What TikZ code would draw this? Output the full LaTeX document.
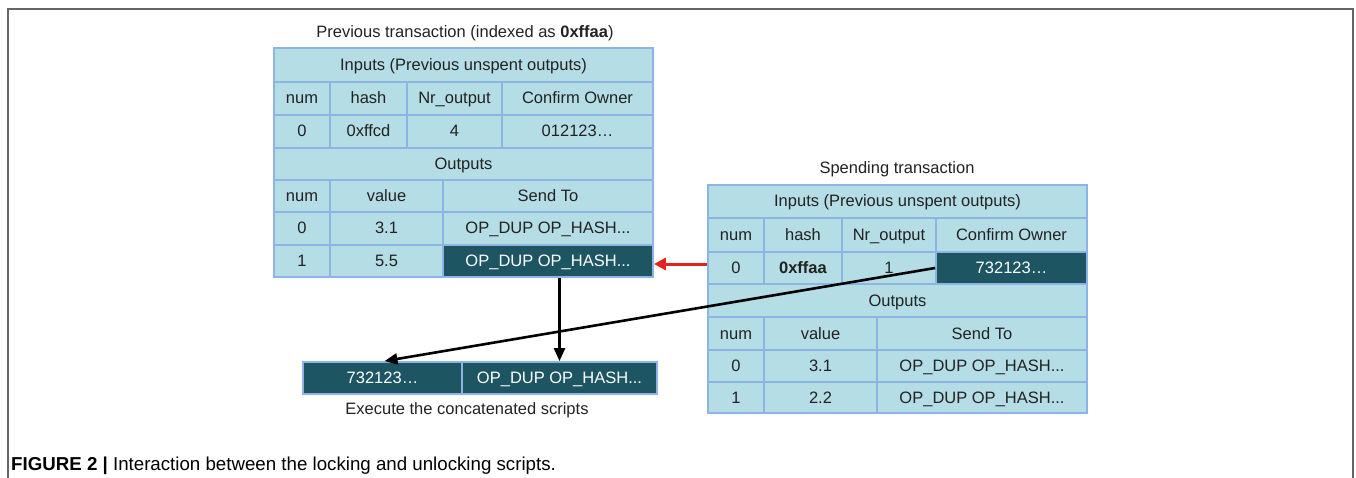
\documentclass[tikz,border=0pt]{standalone}
\usepackage{fontspec}
\setmainfont{Liberation Sans}
\usetikzlibrary{arrows.meta}
\definecolor{cellfill}{HTML}{B4DDE5}
\definecolor{cellline}{HTML}{8EB4E3}
\definecolor{darkfill}{HTML}{1D5563}
\definecolor{txt}{HTML}{222222}
\definecolor{framegray}{HTML}{666666}
\definecolor{arrred}{HTML}{E3231E}
\tikzset{
  tcellsty/.style={draw=cellline, fill=cellfill, line width=1.8pt, inner sep=0pt,
    text=txt, font=\fontsize{16.5}{19}\selectfont, text height=13pt, text depth=2pt},
  darkcell/.style={fill=darkfill, text=white},
  titlesty/.style={text=txt, font=\fontsize{16.5}{19}\selectfont, inner sep=0pt},
  blackarrow/.style={line width=2.6pt, black, -{Triangle[length=13pt,width=11pt]}},
  redarrow/.style={line width=3pt, arrred, -{Triangle[length=12pt,width=12pt]}},
}
\newcommand{\tcell}[7][]{\node[tcellsty,#1,minimum width={(#4-#2)*1pt},minimum height={(#5-#3)*1pt}] (#6) at ({(#2+#4)/2},{(#3+#5)/2}) {#7};}
\begin{document}
\begin{tikzpicture}[x=1pt,y=-1pt]
\useasboundingbox (0,0) rectangle (1356,478);
% frame
\draw[framegray, line width=1.5pt] (8,478) -- (8,9) -- (1353,9) -- (1353,478);

% ---------- previous transaction ----------
\node[titlesty] (ptitle) at (465,33) {Previous transaction (indexed as \textbf{0xffaa})};
\tcell{274}{48}{653}{82}{pin}{Inputs (Previous unspent outputs)}
\tcell{274}{82}{330}{115}{pinh1}{num}
\tcell{330}{82}{407}{115}{pinh2}{hash}
\tcell{407}{82}{502}{115}{pinh3}{Nr\_output}
\tcell{502}{82}{653}{115}{pinh4}{Confirm Owner}
\tcell{274}{115}{330}{148}{pinv1}{0}
\tcell{330}{115}{407}{148}{pinv2}{0xffcd}
\tcell{407}{115}{502}{148}{pinv3}{4}
\tcell{502}{115}{653}{148}{pinv4}{012123…}
\tcell{274}{148}{653}{180}{pout}{Outputs}
\tcell{274}{180}{330}{212}{pouth1}{num}
\tcell{330}{180}{443}{212}{pouth2}{value}
\tcell{443}{180}{653}{212}{pouth3}{Send To}
\tcell{274}{212}{330}{245}{poa1}{0}
\tcell{330}{212}{443}{245}{poa2}{3.1}
\tcell{443}{212}{653}{245}{poa3}{OP\_DUP OP\_HASH...}
\tcell{274}{245}{330}{277}{pob1}{1}
\tcell{330}{245}{443}{277}{pob2}{5.5}
\tcell[darkcell]{443}{245}{653}{277}{pdark}{OP\_DUP OP\_HASH...}

% ---------- spending transaction ----------
\node[titlesty] (stitle) at (897,169) {Spending transaction};
\tcell{708}{185}{1087}{218}{sin}{Inputs (Previous unspent outputs)}
\tcell{708}{218}{764}{252}{sinh1}{num}
\tcell{764}{218}{842}{252}{sinh2}{hash}
\tcell{842}{218}{936}{252}{sinh3}{Nr\_output}
\tcell{936}{218}{1087}{252}{sinh4}{Confirm Owner}
\tcell{708}{252}{764}{284}{snum}{0}
\tcell{764}{252}{842}{284}{shash}{\textbf{0xffaa}}
\tcell{842}{252}{936}{284}{snr}{1}
\tcell[darkcell]{936}{252}{1087}{284}{sown}{732123…}
\tcell{708}{284}{1087}{317}{sout}{Outputs}
\tcell{708}{317}{764}{350}{south1}{num}
\tcell{764}{317}{877}{350}{south2}{value}
\tcell{877}{317}{1087}{350}{south3}{Send To}
\tcell{708}{350}{764}{382}{soa1}{0}
\tcell{764}{350}{877}{382}{soa2}{3.1}
\tcell{877}{350}{1087}{382}{soa3}{OP\_DUP OP\_HASH...}
\tcell{708}{382}{764}{413}{sob1}{1}
\tcell{764}{382}{877}{413}{sob2}{2.2}
\tcell{877}{382}{1087}{413}{sob3}{OP\_DUP OP\_HASH...}

% ---------- concatenated scripts ----------
\tcell[darkcell]{303}{362}{462}{394}{bnum}{732123…}
\tcell[darkcell]{462}{362}{657}{394}{bop}{OP\_DUP OP\_HASH...}
\node[titlesty] (blabel) at (467,410) {Execute the concatenated scripts};

% ---------- arrows ----------
\coordinate (rs) at ([yshift=4pt]snum.west);
\draw[redarrow] (rs) -- (rs -| pdark.east);
\draw[blackarrow] (bop.north |- pdark.south) -- (bop.north);
\draw[blackarrow] (sown.west) -- ([xshift=2pt]bnum.north);

% ---------- caption ----------
\node[anchor=west, text=black, inner sep=0pt, font=\fontsize{18.7}{22}\selectfont] (caption) at (11,466)
  {\textbf{FIGURE 2 |} Interaction between the locking and unlocking scripts.};
\end{tikzpicture}
\end{document}
